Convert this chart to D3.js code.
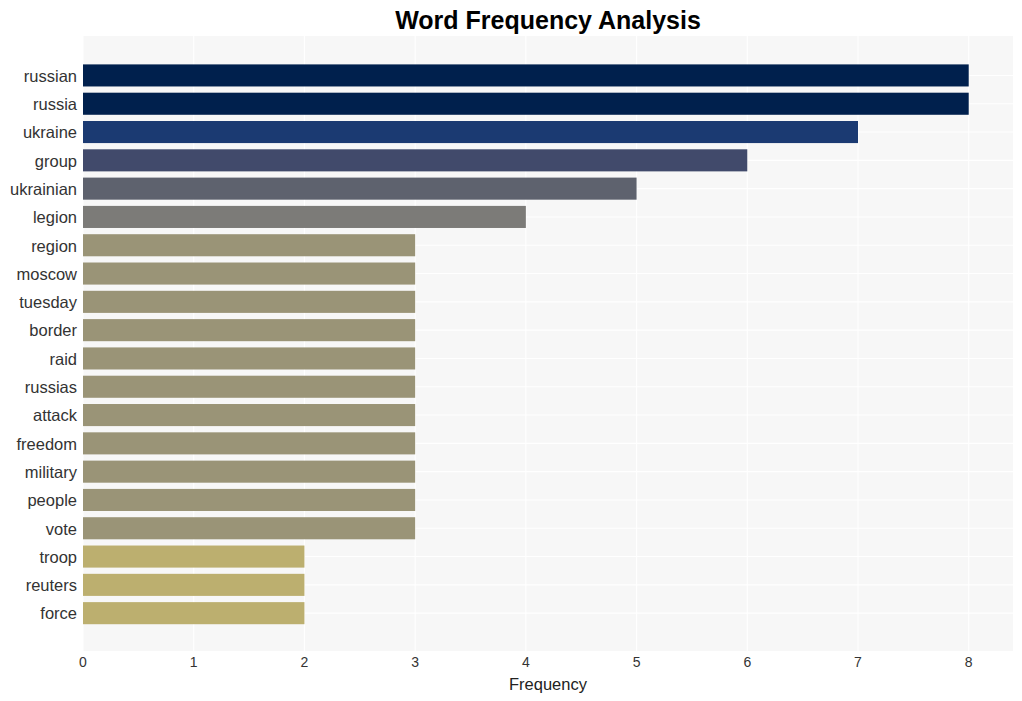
<!DOCTYPE html>
<html>
<head>
<meta charset="utf-8">
<script src="https://cdn.jsdelivr.net/npm/d3@7"></script>
<style>
  body { margin: 0; background: #fff; }
  text { font-family: "Liberation Sans", Arial, sans-serif; }
</style>
</head>
<body>
<svg id="chart" width="1022" height="701"></svg>
<script>
const words = ["russian","russia","ukraine","group","ukrainian","legion","region","moscow","tuesday","border","raid","russias","attack","freedom","military","people","vote","troop","reuters","force"];
const counts = [8,8,7,6,5,4,3,3,3,3,3,3,3,3,3,3,3,2,2,2];
const xTicks = [0,1,2,3,4,5,6,7,8];
const colorByCount = {8:"#00204d", 7:"#1b3a72", 6:"#414a6b", 5:"#5e626e", 4:"#7c7b78", 3:"#9a9477", 2:"#bcaf6f"};

const svg = d3.select("#chart");
const panel = {left: 83, right: 1013, top: 36, bottom: 651};

const x = d3.scaleLinear().domain([0, 8.4]).range([panel.left, panel.right]);
const y = d3.scaleBand().domain(words).range([panel.top + 0.8, panel.bottom + 0.8])
  .paddingInner(0.22).paddingOuter(0.975);

svg.append("rect").attr("x", panel.left).attr("y", panel.top)
  .attr("width", panel.right - panel.left).attr("height", panel.bottom - panel.top)
  .attr("fill", "#f7f7f7");

// vertical grid
svg.append("g").selectAll("line").data(xTicks).join("line")
  .attr("x1", d => x(d)).attr("x2", d => x(d))
  .attr("y1", panel.top).attr("y2", panel.bottom)
  .attr("stroke", "#ffffff").attr("stroke-width", 1.1);
// horizontal grid at category centers
svg.append("g").selectAll("line").data(words).join("line")
  .attr("x1", panel.left).attr("x2", panel.right)
  .attr("y1", d => y(d) + y.bandwidth()/2).attr("y2", d => y(d) + y.bandwidth()/2)
  .attr("stroke", "#ffffff").attr("stroke-width", 1.1);

// bars
svg.append("g").selectAll("rect").data(words).join("rect")
  .attr("x", x(0)).attr("y", d => y(d))
  .attr("width", (d, i) => x(counts[i]) - x(0))
  .attr("height", y.bandwidth())
  .attr("fill", (d, i) => colorByCount[counts[i]]);

// y labels
svg.append("g").selectAll("text").data(words).join("text")
  .attr("x", 77).attr("y", d => y(d) + y.bandwidth()/2 + 0.5)
  .attr("dy", "0.35em").attr("text-anchor", "end")
  .attr("font-size", 16.5).attr("fill", "#333333").text(d => d);

// x tick labels
svg.append("g").selectAll("text").data(xTicks).join("text")
  .attr("x", d => x(d)).attr("y", 662).attr("dy", "0.35em")
  .attr("text-anchor", "middle").attr("font-size", 14).attr("fill", "#333333")
  .text(d => d);

svg.append("text").attr("x", (panel.left + panel.right)/2).attr("y", 684)
  .attr("dy", "0.35em").attr("text-anchor", "middle")
  .attr("font-size", 16.5).attr("fill", "#222").text("Frequency");

svg.append("text").attr("x", (panel.left + panel.right)/2).attr("y", 20)
  .attr("dy", "0.35em").attr("text-anchor", "middle")
  .attr("font-size", 25).attr("font-weight", "bold").attr("fill", "#000")
  .text("Word Frequency Analysis");
</script>
</body>
</html>
